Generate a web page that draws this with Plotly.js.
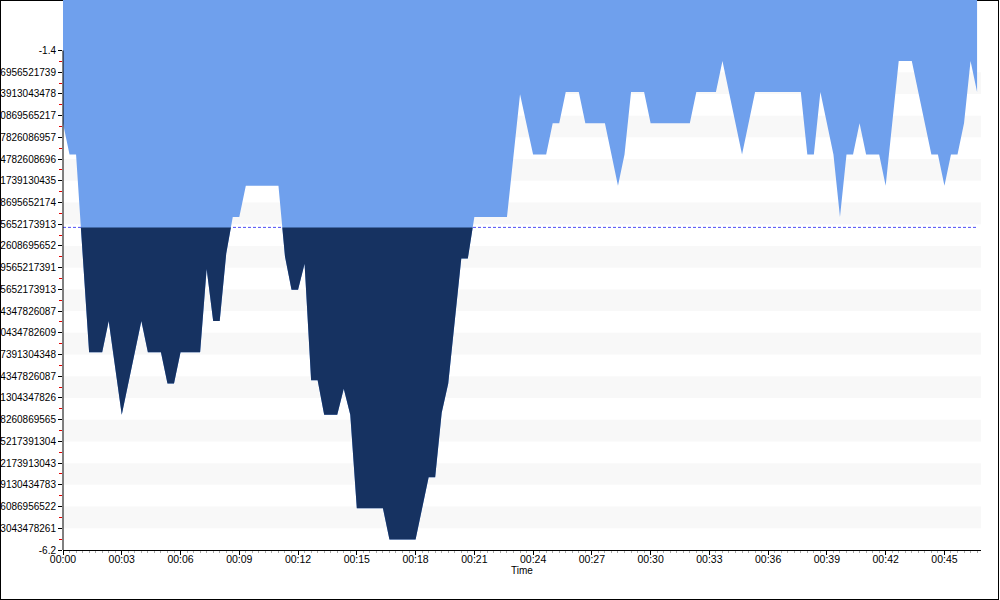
<!DOCTYPE html>
<html>
<head>
<meta charset="utf-8">
<script src="https://cdn.plot.ly/plotly-3.0.1.min.js"></script>
<style>
  html, body { margin:0; padding:0; background:#fff; }
  #wrap { position:relative; width:1000px; height:600px; overflow:hidden; }
  #border { position:absolute; left:0; top:0; width:999px; height:600px; box-sizing:border-box; border:1px solid #000; z-index:0; }
  #chart { position:absolute; left:0; top:0; width:1000px; height:600px; z-index:1; }
</style>
</head>
<body>
<div id="wrap"><div id="border"></div><div id="chart"></div></div>
<script>
// ---- data (time mm:ss, value) ----
const times = ['00:00','00:20','00:40','01:20','02:00','02:20','03:00','04:00','04:20','05:00',
  '05:20','05:40','06:00','07:00','07:20','07:40','08:00','08:20','08:40','09:00',
  '09:20','11:00','11:20','11:40','12:00','12:20','12:40','13:00','13:20','14:00',
  '14:20','14:40','15:00','16:20','16:40','18:00','18:40','19:00','19:20','19:40',
  '20:20','20:40','21:00','22:40','23:20','24:00','24:40','25:00','25:20','25:40',
  '26:20','26:40','27:40','28:20','28:40','29:00','29:40','30:00','32:00','32:20',
  '33:20','33:40','34:40','35:20','37:40','38:00','38:20','38:40','39:20','39:40',
  '40:00','40:20','40:40','41:00','41:40','42:00','42:40','43:20','44:20','44:40',
  '45:00','45:20','45:40','46:00','46:20','46:40'];
const values = [-2.1,-2.4,-2.4,-4.3,-4.3,-4.0,-4.9,-4.0,-4.3,-4.3,
  -4.6,-4.6,-4.3,-4.3,-3.5,-4.0,-4.0,-3.35,-3.0,-3.0,
  -2.7,-2.7,-3.38,-3.7,-3.7,-3.45,-4.57,-4.57,-4.9,-4.9,
  -4.65,-4.9,-5.8,-5.8,-6.1,-6.1,-5.5,-5.5,-4.88,-4.6,
  -3.4,-3.4,-3.0,-3.0,-1.82,-2.4,-2.4,-2.1,-2.1,-1.8,
  -1.8,-2.1,-2.1,-2.7,-2.4,-1.8,-1.8,-2.1,-2.1,-1.8,
  -1.8,-1.5,-2.4,-1.8,-1.8,-2.4,-2.4,-1.8,-2.4,-3.0,
  -2.4,-2.4,-2.1,-2.4,-2.4,-2.7,-1.5,-1.5,-2.4,-2.4,
  -2.7,-2.4,-2.4,-2.1,-1.5,-1.8];
const baseline = -3.1;

const yTickText = ['-6.2','-5.9913043478261','-5.7826086956522','-5.5739130434783','-5.3652173913043',
  '-5.1565217391304','-4.9478260869565','-4.7391304347826','-4.5304347826087','-4.3217391304348',
  '-4.1130434782609','-3.904347826087','-3.695652173913','-3.4869565217391','-3.2782608695652',
  '-3.0695652173913','-2.8608695652174','-2.6521739130435','-2.4434782608696','-2.2347826086957',
  '-2.0260869565217','-1.8173913043478','-1.6086956521739','-1.4'];
const yTickVals = yTickText.map(Number);
const xTickFormat = '%H:%M';
const xTitle = 'Time';

// ---- helpers ----
const DAY = '2000-01-01 ';
function toSec(s){ const p = s.split(':'); return (+p[0])*60 + (+p[1]); }
function toDate(sec){
  const m = Math.floor(sec/60), s = sec - m*60;
  const ss = s.toFixed(3).padStart(6,'0');
  return DAY + '00:' + String(m).padStart(2,'0') + ':' + ss;
}
const secs = times.map(toSec);
const xs = secs.map(toDate);

// light-blue area: from the line up to the top of the plot
const TOP = 0;
const topX = [xs[0]].concat(xs, [xs[xs.length-1]]);
const topY = [TOP].concat(values, [TOP]);

// navy area: between baseline and the line where the line is below it
const nx = [], ny = [];
nx.push(secs[0]); ny.push(baseline);
for (let i = 0; i < secs.length; i++) {
  if (i > 0) {
    const a = values[i-1] - baseline, b = values[i] - baseline;
    if ((a < 0 && b > 0) || (a > 0 && b < 0)) {
      const t = secs[i-1] + (secs[i]-secs[i-1]) * (a/(a-b));
      nx.push(t); ny.push(baseline);
    }
  }
  nx.push(secs[i]); ny.push(Math.min(values[i], baseline));
}
nx.push(secs[secs.length-1]); ny.push(baseline);

// minor (red) ticks half way between the labelled ticks
const yMinorVals = [];
for (let i = 0; i < yTickVals.length - 1; i++) yMinorVals.push((yTickVals[i] + yTickVals[i+1]) / 2);

const traces = [
  { x: topX, y: topY, type:'scatter', mode:'lines', fill:'toself',
    fillcolor:'#6fa0ed', line:{width:0, color:'#6fa0ed'}, hoverinfo:'skip' },
  { x: nx.map(toDate), y: ny, type:'scatter', mode:'lines', fill:'toself',
    fillcolor:'#163261', line:{width:0, color:'#163261'}, hoverinfo:'skip' }
];

const shapes = [];
for (let i = 1; i < yTickVals.length - 1; i += 2) {
  shapes.push({type:'rect', xref:'paper', yref:'y', x0:0, x1:1,
    y0:yTickVals[i], y1:yTickVals[i+1], fillcolor:'#f8f8f8', line:{width:0}, layer:'below'});
}
shapes.push({type:'line', xref:'x', yref:'y', x0:xs[0], x1:xs[xs.length-1],
  y0:baseline, y1:baseline, line:{color:'#4f4ff5', width:1, dash:'3px,2px'}, layer:'below'});
shapes.push({type:'line', xref:'paper', yref:'y', x0:0, x1:0,
  y0:yTickVals[0], y1:yTickVals[yTickVals.length-1], line:{color:'#000', width:1}, layer:'above'});

const FONT = 'Liberation Sans, Arial, sans-serif';
const layout = {
  width:1000, height:600,
  margin:{l:63, r:19, t:0, b:50, pad:0},
  paper_bgcolor:'rgba(0,0,0,0)', plot_bgcolor:'rgba(0,0,0,0)',
  showlegend:false, hovermode:false,
  font:{family:FONT, size:10, color:'#000'},
  xaxis:{
    type:'date', range:[toDate(0), toDate(46*60+52)],
    tickmode:'linear', tick0:toDate(0), dtick:180000, tickformat:xTickFormat,
    ticks:'outside', ticklen:4, tickcolor:'#000', tickwidth:1, ticklabelstandoff:-5,
    showline:true, linecolor:'#000', linewidth:1, mirror:false,
    showgrid:false, zeroline:false, automargin:false,
    tickfont:{family:FONT, size:10.5, color:'#000'},
    minor:{tickmode:'linear', tick0:toDate(0), dtick:20000, ticks:'outside', ticklen:2, tickcolor:'#aaaaaa', showgrid:false},
    title:{text:xTitle, font:{family:FONT, size:10, color:'#000'}, standoff:0}
  },
  yaxis:{
    range:[-6.2, -0.915], tickmode:'array', tickvals:yTickVals, ticktext:yTickText,
    ticks:'outside', ticklen:4, tickcolor:'#000', tickwidth:1,
    showline:false, showgrid:false, zeroline:false, automargin:false,
    tickfont:{family:FONT, size:10, color:'#000'},
    minor:{tickmode:'array', tickvals:yMinorVals, ticks:'outside', ticklen:3, tickcolor:'#e00000', showgrid:false}
  },
  shapes: shapes
};

Plotly.newPlot('chart', traces, layout, {staticPlot:true, displayModeBar:false});
</script>
</body>
</html>
